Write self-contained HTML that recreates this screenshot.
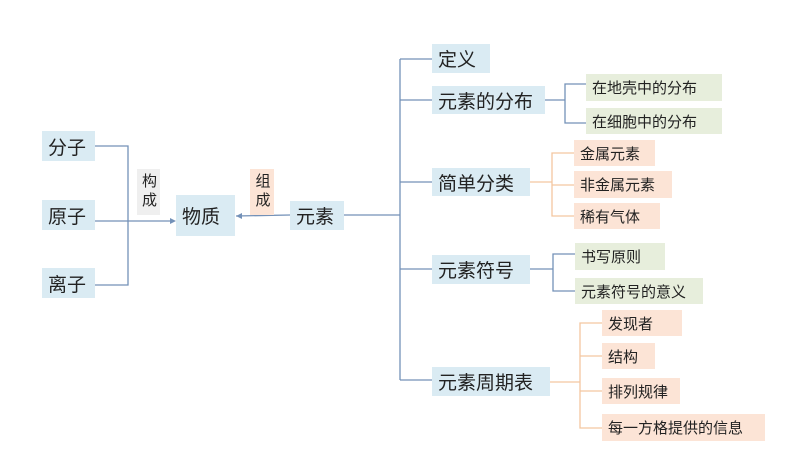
<!DOCTYPE html>
<html><head><meta charset="utf-8"><style>
body{margin:0;width:800px;height:450px;background:#fff;position:relative;overflow:hidden;font-family:"Liberation Sans","Noto Sans CJK SC",sans-serif;color:#222}
.b{position:absolute;display:flex;align-items:center;box-sizing:border-box;padding-left:6px;white-space:nowrap}
.L{font-size:19px;background:#daebf3}
.S{font-size:15px}
.g{background:#e7eedc}
.p{background:#fce4d6}
.v{writing-mode:vertical-rl;padding:0;justify-content:center;font-size:15px;letter-spacing:4px}
svg{position:absolute;left:0;top:0}
</style></head><body>
<svg width="800" height="450">
<g stroke="#7391b8" stroke-width="1.3" fill="none">
<polyline points="95,146 128,146 128,285 95,285"/>
<line x1="95" y1="221" x2="174" y2="221"/>
<line x1="236" y1="216" x2="290" y2="215"/>
<line x1="344" y1="215" x2="400" y2="215"/>
<line x1="400" y1="59" x2="400" y2="380"/>
<line x1="400" y1="59" x2="432" y2="59"/>
<line x1="400" y1="100" x2="432" y2="100"/>
<line x1="400" y1="182" x2="432" y2="182"/>
<line x1="400" y1="269" x2="432" y2="269"/>
<line x1="400" y1="380" x2="432" y2="380"/>
<line x1="545" y1="100" x2="565" y2="100"/>
<polyline points="586,84 565,84 565,123 586,123"/>
<line x1="530" y1="269" x2="553" y2="269"/>
<polyline points="575,254 553,254 553,291 575,291"/>
</g>
<polygon points="176,221 170,218 170,224" fill="#7391b8"/>
<polygon points="236,216 242,213 242,219" fill="#7391b8"/>
<g stroke="#f3c6a0" stroke-width="1.3" fill="none">
<line x1="530" y1="182" x2="552" y2="182"/>
<polyline points="574,153 552,153 552,216 574,216"/>
<line x1="552" y1="185" x2="574" y2="185"/>
<line x1="550" y1="382" x2="580" y2="382"/>
<polyline points="602,323 580,323 580,428 602,428"/>
<line x1="580" y1="356" x2="602" y2="356"/>
<line x1="580" y1="391" x2="602" y2="391"/>
</g>
</svg>
<div class="b L" style="left:42px;top:131px;width:53px;height:30px">分子</div>
<div class="b L" style="left:42px;top:200px;width:53px;height:30px">原子</div>
<div class="b L" style="left:42px;top:268px;width:53px;height:30px">离子</div>
<div class="b v" style="left:137px;top:169px;width:23px;height:46px;background:#efefef">构成</div>
<div class="b v p" style="left:250px;top:169px;width:24px;height:46px">组成</div>
<div class="b L" style="left:176px;top:195px;width:59px;height:41px">物质</div>
<div class="b L" style="left:290px;top:201px;width:54px;height:29px">元素</div>
<div class="b L" style="left:432px;top:44px;width:58px;height:29px">定义</div>
<div class="b L" style="left:432px;top:86px;width:113px;height:28px">元素的分布</div>
<div class="b L" style="left:432px;top:168px;width:98px;height:28px">简单分类</div>
<div class="b L" style="left:432px;top:255px;width:98px;height:29px">元素符号</div>
<div class="b L" style="left:432px;top:367px;width:118px;height:29px">元素周期表</div>
<div class="b S g" style="left:586px;top:74px;width:136px;height:27px">在地壳中的分布</div>
<div class="b S g" style="left:586px;top:108px;width:136px;height:26px">在细胞中的分布</div>
<div class="b S p" style="left:574px;top:140px;width:81px;height:26px">金属元素</div>
<div class="b S p" style="left:574px;top:171px;width:98px;height:27px">非金属元素</div>
<div class="b S p" style="left:574px;top:203px;width:86px;height:26px">稀有气体</div>
<div class="b S g" style="left:575px;top:243px;width:90px;height:27px">书写原则</div>
<div class="b S g" style="left:575px;top:278px;width:128px;height:26px">元素符号的意义</div>
<div class="b S p" style="left:602px;top:310px;width:80px;height:26px">发现者</div>
<div class="b S p" style="left:602px;top:343px;width:53px;height:26px">结构</div>
<div class="b S p" style="left:602px;top:378px;width:78px;height:26px">排列规律</div>
<div class="b S p" style="left:602px;top:414px;width:163px;height:27px">每一方格提供的信息</div>
</body></html>
